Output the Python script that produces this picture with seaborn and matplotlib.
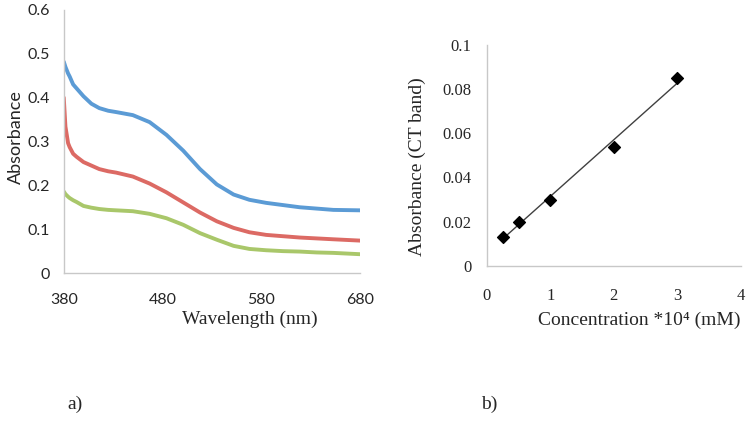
import matplotlib
matplotlib.use("Agg")
import matplotlib.pyplot as plt
import seaborn as sns
import pandas as pd

# a) UV-vis spectra
wavelength = [380, 381.7, 384.4, 386, 389.5, 393, 400, 408, 416, 425, 433, 450, 467, 484, 501, 518, 535, 552, 568, 585, 602, 619, 636, 653, 680]
abs_blue = [0.482, 0.470, 0.455, 0.448, 0.430, 0.421, 0.403, 0.386, 0.376, 0.370, 0.367, 0.360, 0.344, 0.315, 0.279, 0.237, 0.202, 0.179, 0.167, 0.160, 0.155, 0.150, 0.147, 0.144, 0.143]
abs_red = [0.400, 0.334, 0.296, 0.287, 0.272, 0.265, 0.253, 0.245, 0.237, 0.232, 0.229, 0.220, 0.204, 0.184, 0.161, 0.138, 0.118, 0.103, 0.093, 0.087, 0.084, 0.081, 0.079, 0.077, 0.074]
abs_green = [0.186, 0.180, 0.174, 0.171, 0.166, 0.162, 0.153, 0.149, 0.146, 0.144, 0.143, 0.141, 0.135, 0.125, 0.110, 0.091, 0.076, 0.062, 0.055, 0.052, 0.050, 0.049, 0.047, 0.046, 0.043]

# b) CT band absorbance vs concentration
conc = [0.25, 0.5, 1, 2, 3]
abs_ct = [0.013, 0.020, 0.030, 0.054, 0.085]

sns.set_style("white")
sans = ["Lato", "DejaVu Sans"]
serif = ["Liberation Serif", "DejaVu Serif"]

fig = plt.figure(figsize=(7.5, 4.28), dpi=100)
ax1 = fig.add_axes([0.085, 0.362, 0.395, 0.615])
ax2 = fig.add_axes([0.649, 0.379, 0.339, 0.516])

spec = pd.DataFrame({"wl": wavelength, "blue": abs_blue, "red": abs_red, "green": abs_green})
for col, c in [("blue", "#5b9bd5"), ("red", "#dc6a64"), ("green", "#a9c76a")]:
    sns.lineplot(data=spec, x="wl", y=col, ax=ax1, color=c, lw=2.8)

ax1.set_xlim(380, 680)
ax1.set_ylim(0, 0.6)
ax1.set_xticks([380, 480, 580, 680])
ax1.set_yticks([0, 0.1, 0.2, 0.3, 0.4, 0.5, 0.6])
ax1.set_yticklabels(["0", "0.1", "0.2", "0.3", "0.4", "0.5", "0.6"])
ax1.set_xlabel("")
ax1.set_ylabel("")
for lab in ax1.get_xticklabels() + ax1.get_yticklabels():
    lab.set_family(sans)
    lab.set_fontsize(11.5)
ax1.tick_params(axis="x", direction="in", length=3, color="#c8c8c8", pad=14)
ax1.tick_params(axis="y", direction="in", length=3, color="#c8c8c8", pad=10)
fig.text(0.021, 0.68, "Absorbance", fontsize=13, family=sans, rotation=90, ha="center", va="center")
fig.text(0.333, 0.254, "Wavelength (nm)", fontsize=14, family=serif, ha="center", va="center")

df = pd.DataFrame({"conc": conc, "abs": abs_ct})
sns.regplot(data=df, x="conc", y="abs", ax=ax2, ci=None, color="black",
            marker="D", scatter_kws={"s": 36, "zorder": 3, "alpha": 1},
            line_kws={"color": "#404040", "lw": 1})
ax2.set_xlim(0, 4)
ax2.set_ylim(0, 0.1)
ax2.set_xticks([0, 1, 2, 3, 4])
ax2.set_yticks([0, 0.02, 0.04, 0.06, 0.08, 0.1])
ax2.set_yticklabels(["0", "0.02", "0.04", "0.06", "0.08", "0.1"])
ax2.set_xlabel("")
ax2.set_ylabel("")
for lab in ax2.get_xticklabels() + ax2.get_yticklabels():
    lab.set_family(serif)
    lab.set_fontsize(12)
ax2.tick_params(axis="x", direction="in", length=3, color="#c8c8c8", pad=16)
ax2.tick_params(axis="y", direction="in", length=3, color="#c8c8c8", pad=11)
fig.text(0.557, 0.61, "Absorbance (CT band)", fontsize=14, family=serif, rotation=90, ha="center", va="center")
fig.text(0.853, 0.252, "Concentration *10\u2074 (mM)", fontsize=14, family=serif, ha="center", va="center")

for ax in (ax1, ax2):
    sns.despine(ax=ax)
    for s in ("left", "bottom"):
        ax.spines[s].set_color("#c8c8c8")
        ax.spines[s].set_linewidth(1)

fig.text(0.1, 0.056, "a)", fontsize=14, family=serif, ha="center", va="center")
fig.text(0.652, 0.056, "b)", fontsize=14, family=serif, ha="center", va="center")

fig.savefig("out.png", dpi=100)
